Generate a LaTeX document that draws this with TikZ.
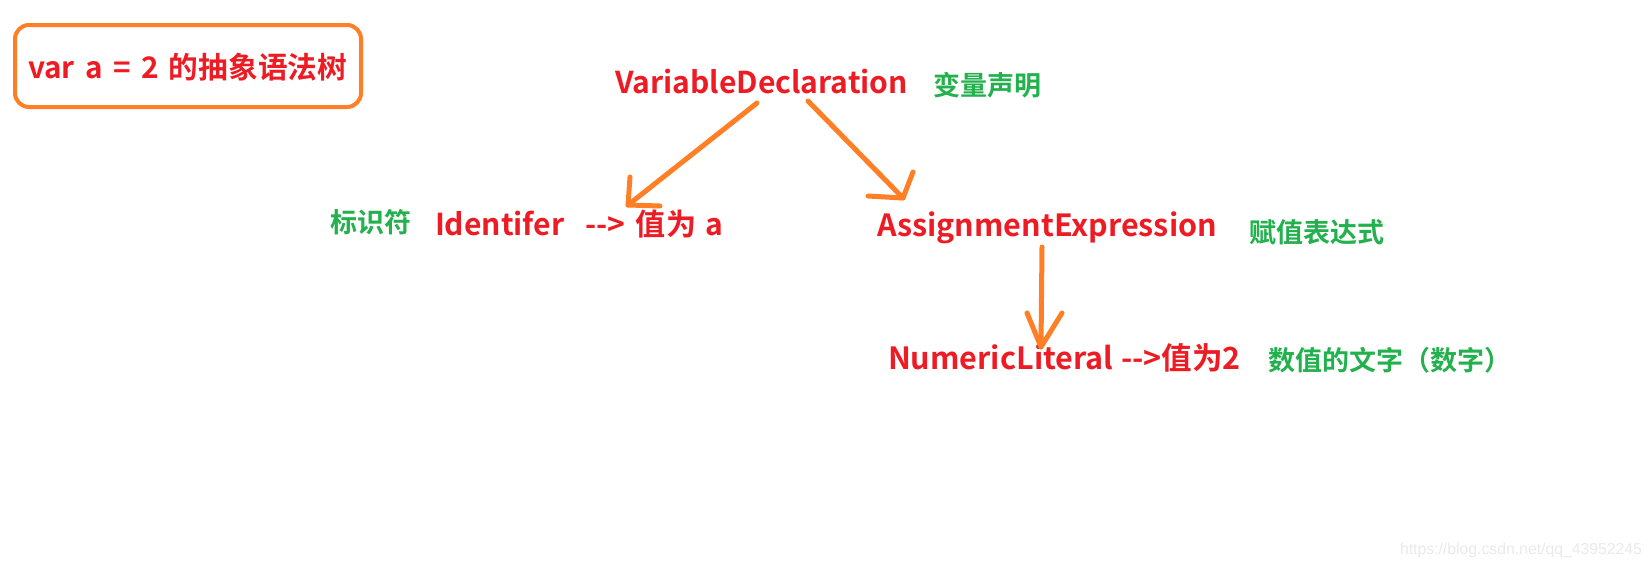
\documentclass[tikz,border=0pt]{standalone}
\usepackage{fontspec}
\usepackage{graphicx}
\newfontfamily\cjkb{Noto Sans CJK SC Bold}
\newfontfamily\wmfont{Liberation Sans}
\definecolor{pred}{HTML}{ED1C24}
\definecolor{pgreen}{HTML}{22B14C}
\definecolor{porange}{HTML}{FF7F27}
\definecolor{wmgray}{HTML}{EAEAEA}
\newcommand{\fitw}[2]{\resizebox{#1}{!}{#2}}
\begin{document}
\begin{tikzpicture}[x=1pt,y=-1pt,
  lbl/.style={inner sep=0pt, outer sep=0pt, anchor=base west},
  redt/.style={lbl, text=pred, font=\cjkb\fontsize{30}{30}\selectfont},
  greent/.style={lbl, text=pgreen, font=\cjkb\fontsize{27}{27}\selectfont},
  wm/.style={lbl, text=wmgray, font=\wmfont\fontsize{16}{16}\selectfont},
  conn/.style={draw=porange, line width=5pt, line cap=round, line join=round},
  titlebox/.style={draw=porange, line width=4pt, rounded corners=14pt,
    minimum width=346pt, minimum height=82pt, inner sep=0pt}]
\path[use as bounding box, fill=white] (0,0) rectangle (1652,568);

\node[titlebox] (tbox) at (188,66) {};
\node[redt] (title) at (28,78) {\fitw{319pt}{var\hspace{.35em}a\hspace{.35em}=\hspace{.35em}2\hspace{.35em}的抽象语法树}};

\node[redt] (vd) at (615,93) {\fitw{293pt}{VariableDeclaration}};
\node[greent] (vdc) at (933,95) {变量声明};

\node[greent] (idc) at (330,232) {标识符};
\node[redt] (id) at (435,235) {\fitw{288pt}{Identifer\hspace{.7em}-{}-{}>\hspace{.35em}值为\hspace{.3em}a}};

\node[redt] (ae) at (877,236) {\fitw{340pt}{AssignmentExpression}};
\node[greent] (aec) at (1249,242) {赋值表达式};

\node[redt] (nl) at (888,369) {\fitw{353pt}{NumericLiteral\hspace{.25em}-{}-{}>值为2}};
\node[greent] (nlc) at (1268,370) {数值的文字（数字）};

\node[wm] (wmk) at (1400,554) {\fitw{242pt}{https://blog.csdn.net/qq\_43952245}};

% connectors
\coordinate (a1s) at (757,103);
\coordinate (a1t) at (628,205);
\coordinate (a1h1) at (630,177);
\coordinate (a1h2) at (660,206);
\coordinate (a2s) at (808,101);
\coordinate (a2t) at (903,198);
\coordinate (a2h1) at (913,172);
\coordinate (a2h2) at (868,196);
\coordinate (a3s) at (1042,247);
\coordinate (a3t) at (1041,347);
\coordinate (a3h1) at (1027,313);
\coordinate (a3h2) at (1062,313);

\draw[conn] (a1s) -- (a1t);
\draw[conn] (a1h1) -- (a1t) -- (a1h2);
\draw[conn] (a2s) -- (a2t);
\draw[conn] (a2h1) -- (a2t) -- (a2h2);
\draw[conn] (a3s) -- (a3t);
\draw[conn] (a3h1) -- (a3t) -- (a3h2);
\end{tikzpicture}
\end{document}
